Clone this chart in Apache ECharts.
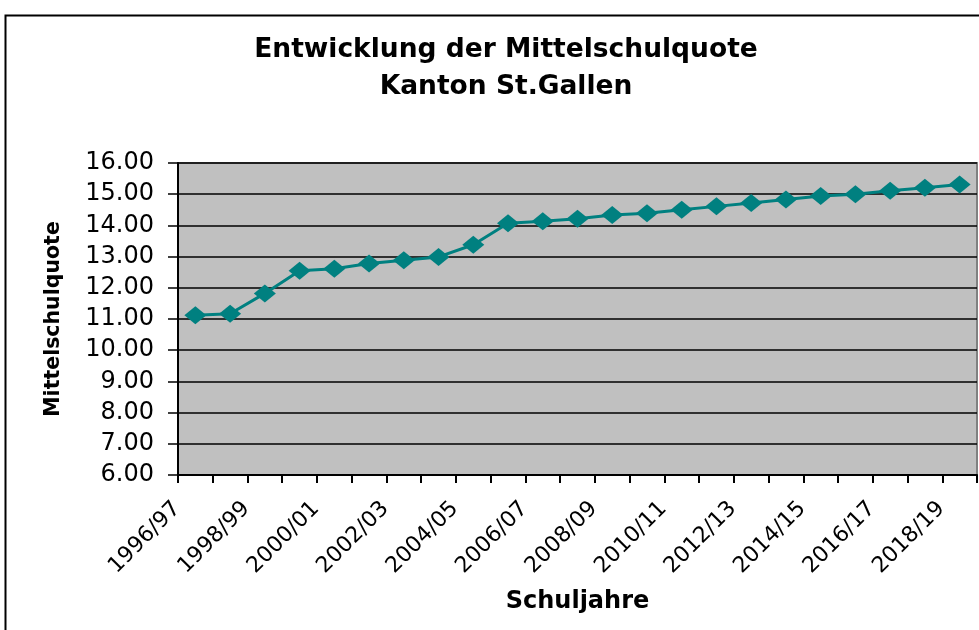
<!DOCTYPE html>
<html><head><meta charset="utf-8">
<script src="https://cdn.jsdelivr.net/npm/echarts@6/dist/echarts.min.js"></script>
<style>html,body{margin:0;padding:0;background:#fff}#c{width:979px;height:630px}</style>
</head><body><div id="c"></div>
<script>
const categories = ["1996/97","1997/98","1998/99","1999/00","2000/01","2001/02","2002/03","2003/04","2004/05","2005/06","2006/07","2007/08","2008/09","2009/10","2010/11","2011/12","2012/13","2013/14","2014/15","2015/16","2016/17","2017/18","2018/19"];
const quote = [11.12,11.17,11.82,12.55,12.61,12.78,12.88,12.99,13.38,14.07,14.13,14.21,14.33,14.39,14.50,14.61,14.72,14.83,14.94,15.00,15.11,15.21,15.31];
const yTicks = {min:6, max:16, interval:1};

const chart = echarts.init(document.getElementById('c'), null, {renderer:'canvas'});
const F = 'DejaVu Sans, sans-serif';
chart.setOption({
  animation:false,
  backgroundColor:'#fff',
  title:{
    text:'Entwicklung der Mittelschulquote\nKanton St.Gallen',
    left:501, textAlign:'center', top:27,
    textStyle:{fontFamily:F, fontWeight:'bold', fontSize:26.5, color:'#000', lineHeight:37}
  },
  graphic:[{type:'rect', shape:{x:5.5,y:15.5,width:1000,height:700}, style:{fill:'none',stroke:'#000',lineWidth:2}, z:-1}],
  grid:{left:178, right:2, top:163, bottom:155, show:true, backgroundColor:'#C0C0C0', borderColor:'#808080', borderWidth:2},
  xAxis:{
    type:'category', data:categories, boundaryGap:true,
    name:'Schuljahre', nameLocation:'middle', nameGap:115,
    nameTextStyle:{fontFamily:F, fontWeight:'bold', fontSize:24, color:'#000'},
    axisLine:{lineStyle:{color:'#000', width:2}},
    axisTick:{show:true, interval:0, length:8, lineStyle:{color:'#000', width:2}},
    axisLabel:{interval:1, rotate:45, fontFamily:F, fontSize:22, color:'#000', margin:12, padding:[0,26,0,0]},
    splitLine:{show:false}
  },
  yAxis:{
    type:'value', min:yTicks.min, max:yTicks.max, interval:yTicks.interval,
    name:'Mittelschulquote', nameLocation:'middle', nameGap:114, nameRotate:90,
    nameTextStyle:{fontFamily:F, fontWeight:'bold', fontSize:20.5, color:'#000'},
    axisLine:{show:true, lineStyle:{color:'#000', width:2}},
    axisTick:{show:true, length:10, lineStyle:{color:'#000', width:1.5}},
    axisLabel:{fontFamily:F, fontSize:24, color:'#000', margin:24, formatter:v=>v.toFixed(2)},
    splitLine:{show:true, lineStyle:{color:'#000', width:1.5}}
  },
  series:[{
    type:'line', data:quote,
    symbol:'diamond', symbolSize:[22,18],
    lineStyle:{color:'#008080', width:3},
    itemStyle:{color:'#008080'}
  }]
});
</script></body></html>
